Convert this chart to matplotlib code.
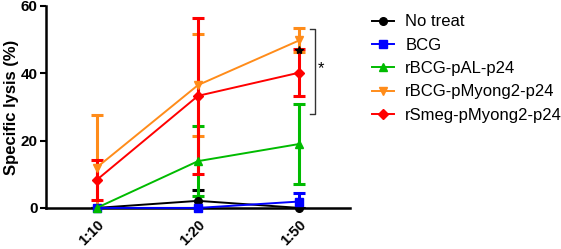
import matplotlib
matplotlib.use('Agg')
import matplotlib.pyplot as plt

plt.rcParams['font.family'] = ['Liberation Sans', 'DejaVu Sans']

# ratio E:T
ratios = ['1:10', '1:20', '1:50']
groups = ['No treat', 'BCG', 'rBCG-pAL-p24', 'rBCG-pMyong2-p24', 'rSmeg-pMyong2-p24']

no_treat = [0.0, 2.1, 0.0]
no_treat_sd = [0.0, 3.2, 0.0]
bcg = [0.0, 0.0, 1.9]
bcg_sd = [0.0, 0.0, 2.4]
pal = [0.0, 13.9, 19.0]
pal_sd = [0.0, 10.5, 11.9]
bcg_myong = [12.0, 36.5, 49.8]
bcg_myong_sd = [15.6, 15.2, 3.6]
smeg_myong = [8.3, 33.3, 40.2]
smeg_myong_sd = [6.0, 23.2, 6.9]

series = [no_treat, bcg, pal, bcg_myong, smeg_myong]
errs = [no_treat_sd, bcg_sd, pal_sd, bcg_myong_sd, smeg_myong_sd]
colors = ['#000000', '#0000FF', '#00BB00', '#FF8C1A', '#FF0000']
markers = ['o', 's', '^', 'v', 'D']
msizes = [5.5, 5.5, 6, 6, 5]

fig = plt.figure(figsize=(5.61, 2.49), dpi=100)
ax = fig.add_axes([0.082, 0.165, 0.542, 0.811])

x = list(range(len(ratios)))
for vals, sd, c, m, ms, name in zip(series, errs, colors, markers, msizes, groups):
    ax.errorbar(x, vals, yerr=sd, fmt='none', ecolor=c, elinewidth=2.2,
                capsize=4.3, capthick=2.2, zorder=2)
    ax.plot(x, vals, color=c, lw=1.4, marker=m, ms=ms, label=name,
            clip_on=False, zorder=3)

# significance mark
ax.plot([2], [47], marker='*', color='black', ms=6, ls='none', zorder=4)
ax.plot([2.1, 2.15, 2.15, 2.1], [53.3, 53.3, 28.0, 28.0], color='#333333',
        lw=1.0, clip_on=False)
ax.text(2.21, 41.5, '*', fontsize=12, ha='center', va='center')

ax.set_xlim(-0.5, 2.5)
ax.set_ylim(0, 60)
ax.set_yticks([0, 20, 40, 60])
ax.set_xticks(x)
ax.set_xticklabels(ratios, rotation=45, ha='right', rotation_mode='anchor',
                   fontsize=10.5, fontweight='bold')
for lab in ax.get_yticklabels():
    lab.set_fontweight('bold')
    lab.set_fontsize(11)
ax.tick_params(axis='x', length=0, pad=7)
ax.tick_params(axis='y', length=4, width=1.5, pad=2)
ax.set_ylabel('Specific lysis (%)', fontsize=12, fontweight='bold', labelpad=1)

ax.spines['top'].set_visible(False)
ax.spines['right'].set_visible(False)
ax.spines['left'].set_linewidth(1.8)
ax.spines['bottom'].set_linewidth(1.8)

fig.legend(loc='upper left', bbox_to_anchor=(0.663, 0.942), frameon=False,
           fontsize=12, handlelength=1.3, handletextpad=0.7, labelspacing=0.5,
           borderpad=0, borderaxespad=0)

fig.savefig('out.png', dpi=100)
